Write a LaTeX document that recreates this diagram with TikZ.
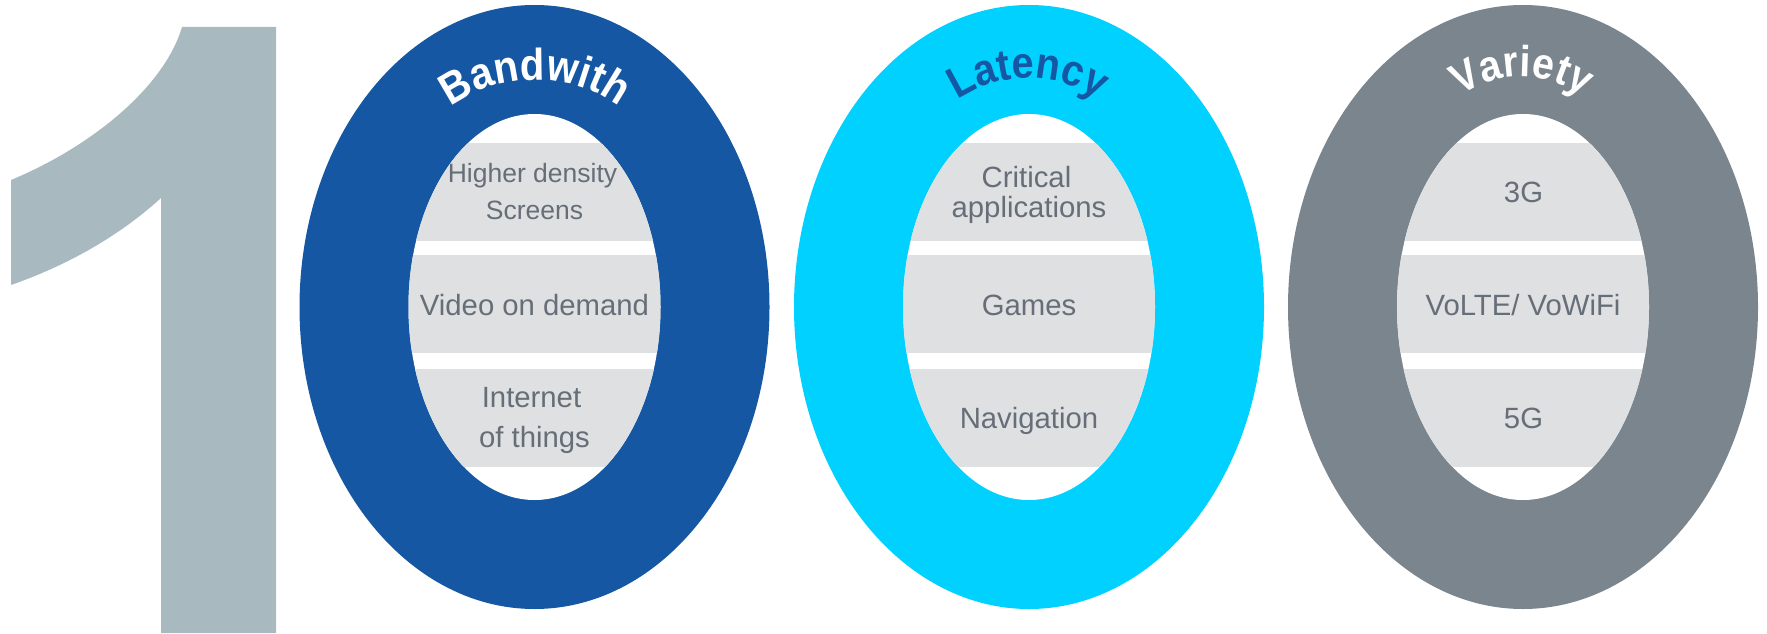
\documentclass[tikz,border=0pt]{standalone}
\usepackage{fontspec}
\setmainfont{Liberation Sans}
\usetikzlibrary{decorations.text}
\definecolor{oneC}{HTML}{A8BAC0}
\definecolor{blueC}{HTML}{1557A2}
\definecolor{cyanC}{HTML}{00D1FF}
\definecolor{greyC}{HTML}{7B858D}
\definecolor{bandC}{HTML}{DEE0E2}
\definecolor{txtC}{HTML}{666E78}
\newfontfamily\headfont[FakeStretch=0.9]{Liberation Sans Bold}
\newcommand{\ringunit}[2]{%
  \begin{scope}[shift={(#1,0)}]
    \fill[#2] (0,307) ellipse [x radius=235, y radius=302];
    \fill[white] (0,307) ellipse [x radius=126, y radius=193];
    \begin{scope}
      \clip (0,307) ellipse [x radius=126, y radius=193];
      \fill[bandC] (-130,143) rectangle (130,241);
      \fill[bandC] (-130,255) rectangle (130,353);
      \fill[bandC] (-130,369) rectangle (130,467);
    \end{scope}
  \end{scope}}
\tikzset{
  x=1pt,y=-1pt,
  lbl/.style={anchor=base,inner sep=0pt,text=txtC,font=\fontsize{29.3}{29.3}\selectfont},
  lblsmall/.style={lbl,font=\fontsize{26.5}{26.5}\selectfont}
}
\begin{document}
\begin{tikzpicture}
\useasboundingbox (0,0) rectangle (1767,634);
\fill[oneC] (276,27) -- (276,633) -- (161,633) -- (161,198)
  .. controls (115,240) and (60,268) .. (11,285) -- (11,180)
  .. controls (95,145) and (165,85) .. (182,27) -- cycle;
\ringunit{534.5}{blueC}
\ringunit{1029}{cyanC}
\ringunit{1523}{greyC}
% ring titles
\path[decorate,decoration={text along path,text align=center,
  text={|\fontsize{44.5}{44.5}\headfont\color{white}|Bandwith}}]
  (437,119) .. controls (487,67) and (583,67) .. (633,119);
\path[decorate,decoration={text along path,text align=center,
  text={|\fontsize{44}{44}\headfont\color{blueC}|Latency}}]
  (942,112) .. controls (990,67) and (1066,67) .. (1114,112);
\path[decorate,decoration={text along path,text align=center,
  text={|\fontsize{43.5}{43.5}\headfont\color{white}|Variety}}]
  (1446,108) .. controls (1494,66) and (1550,66) .. (1598,108);
% ring 1
\node[lblsmall] (a1) at (532.5,182) {Higher density};
\node[lblsmall] (a2) at (534.5,219) {Screens};
\node[lbl] (a3) at (534.5,315) {Video on demand};
\node[lbl] (a4) at (531.5,407) {Internet};
\node[lbl] (a5) at (534.5,447) {of things};
% ring 2
\node[lbl] (b1) at (1026.5,187) {Critical};
\node[lbl] (b2) at (1029,217) {applications};
\node[lbl] (b3) at (1029,315) {Games};
\node[lbl] (b4) at (1029,428) {Navigation};
% ring 3
\node[lbl] (c1) at (1523.5,202) {3G};
\node[lbl] (c2) at (1523,315) {VoLTE/ VoWiFi};
\node[lbl] (c3) at (1523.5,428) {5G};
\end{tikzpicture}
\end{document}
